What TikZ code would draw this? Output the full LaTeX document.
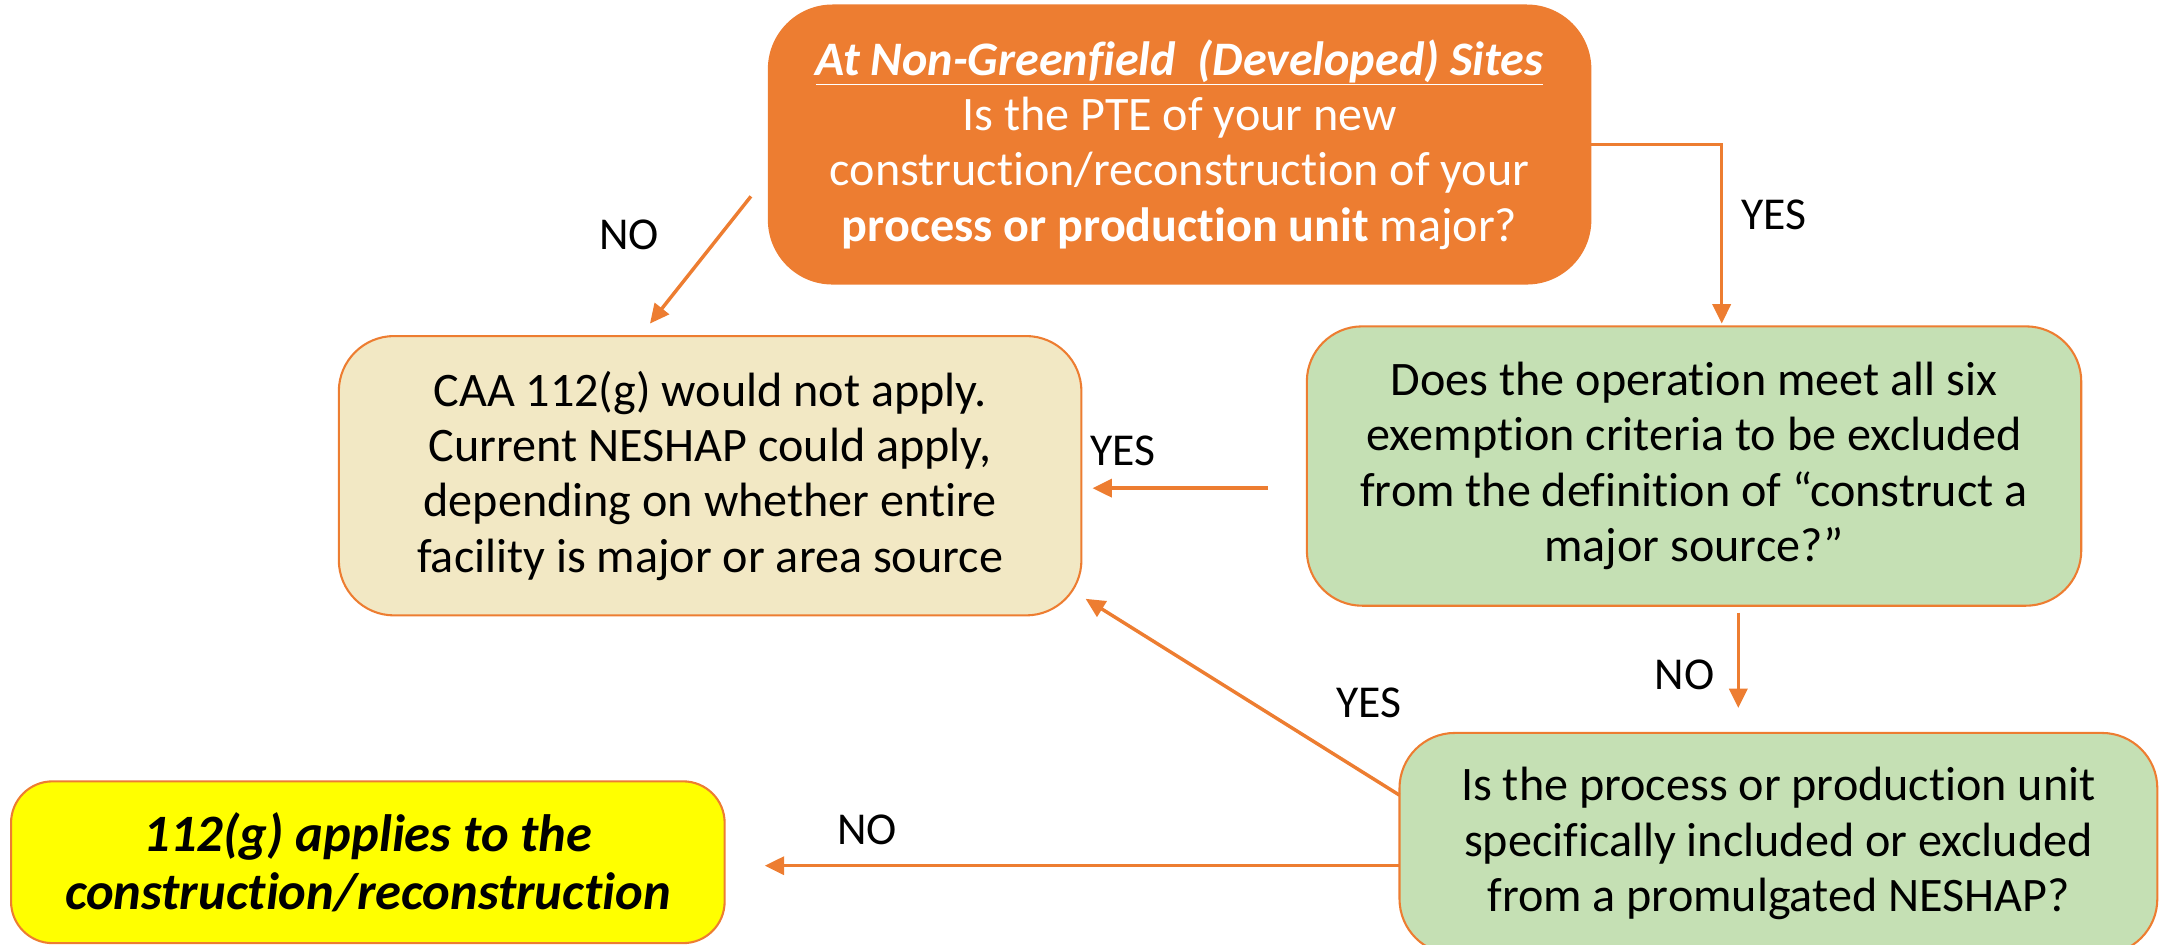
\documentclass[tikz,border=0pt]{standalone}
\usepackage{fontspec}
\setmainfont{Carlito}[Ligatures=NoCommon]
\usetikzlibrary{arrows.meta}
\definecolor{orng}{HTML}{ED7D31}
\definecolor{beige}{HTML}{F2E8C4}
\definecolor{lgreen}{HTML}{C5E0B4}
\definecolor{yell}{HTML}{FFFF00}
\begin{document}
\begin{tikzpicture}[x=1pt,y=-1pt,
  box/.style={draw=orng, line width=1.5pt, rounded corners=40pt, align=center, inner sep=0pt,
    font=\fontsize{34.8}{40}\selectfont},
  arr/.style={draw=orng, line width=2.5pt, -{Triangle[length=14pt,width=13pt]}},
  lbl/.style={font=\fontsize{33}{38}\selectfont, inner sep=0pt}]
\useasboundingbox (0,0) rectangle (1567,683);
\begin{scope}
\clip (0,0) rectangle (1567,683);
\node[box, fill=orng, text=white, rounded corners=46pt, minimum width=594pt, minimum height=201pt] (top) at (853,104.5)
  {\textbf{\textit{\underline{At Non-Greenfield\ \ (Developed) Sites}}}\\
   Is the PTE of your new\\
   construction/reconstruction of your\\
   \textbf{process or production unit} major?};
\node[box, fill=beige, minimum width=537pt, minimum height=202pt] (left) at (513.5,344)
  {CAA 112(g) would not apply.\\
   Current NESHAP could apply,\\
   depending on whether entire\\
   facility is major or area source};
\node[box, fill=lgreen, minimum width=560pt, minimum height=202pt] (right) at (1225,337)
  {Does the operation meet all six\\
   exemption criteria to be excluded\\
   from the definition of “construct a\\
   major source?”};
\node[box, fill=lgreen, minimum width=548pt, minimum height=160pt] (low) at (1286,610)
  {Is the process or production unit\\
   specifically included or excluded\\
   from a promulgated NESHAP?};
\node[box, fill=yell, rounded corners=30pt, minimum width=516pt, minimum height=117pt,
  font=\fontsize{38}{42}\selectfont\bfseries\itshape] (yel) at (266,623.5)
  {112(g) applies to the\\ construction/reconstruction};
\end{scope}
% free ends
\coordinate (a1) at (543,142);
\coordinate (a2) at (470,234);
\coordinate (b1) at (917,353);
\coordinate (b2) at (790,353);
\coordinate (c1) at (1257,443);
\coordinate (c2) at (1257,512);
\coordinate (d1) at (1012,575);
\coordinate (d2) at (785,433);
\coordinate (e1) at (1012,626);
\coordinate (e2) at (553,626);
\coordinate (f1) at (1245,104.5);
\coordinate (f2) at (1245,234);
\draw[arr] (a1) -- (a2);
\draw[arr] (top.east) -- (f1) -- (f2);
\draw[arr] (b1) -- (b2);
\draw[arr] (c1) -- (c2);
\draw[arr] (d1) -- (d2);
\draw[arr] (e1) -- (e2);
\node[lbl] (l1) at (455,170) {NO};
\node[lbl] (l2) at (1283,155) {YES};
\node[lbl] (l3) at (812,326) {YES};
\node[lbl] (l4) at (1218,488) {NO};
\node[lbl] (l5) at (990,508) {YES};
\node[lbl] (l6) at (627,600) {NO};
\end{tikzpicture}
\end{document}
